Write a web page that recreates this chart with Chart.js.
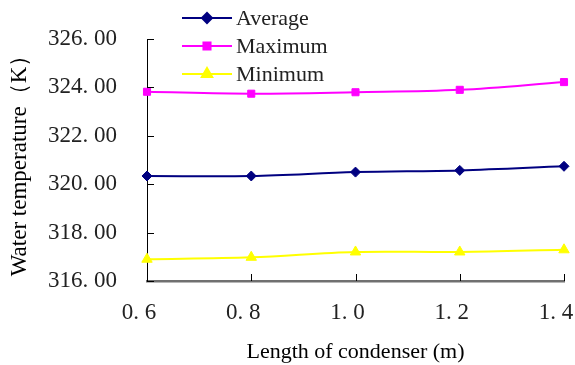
<!DOCTYPE html>
<html>
<head>
<meta charset="utf-8">
<script src="https://cdn.jsdelivr.net/npm/chart.js@4/dist/chart.umd.min.js"></script>
<style>
  html, body { margin: 0; padding: 0; background: #fff; }
  #wrap { width: 575px; height: 365px; }
</style>
</head>
<body>
<div id="wrap"><canvas id="chart"></canvas></div>
<script>
// condenser lengths (m)
const lengths = [0.6, 0.8, 1.0, 1.2, 1.4];
// water temperatures (K)
const average = [320.34, 320.34, 320.50, 320.57, 320.74];
const maximum = [323.82, 323.74, 323.80, 323.90, 324.22];
const minimum = [316.90, 316.98, 317.20, 317.20, 317.29];

const seriesNames = ['Average', 'Maximum', 'Minimum'];
const yTicks = [316, 318, 320, 322, 324, 326];
const xTicks = [0.6, 0.8, 1.0, 1.2, 1.4];

const tickFont = { family: '"Liberation Serif", serif', size: 23 };
const titleFont = { family: '"Liberation Serif", serif', size: 22 };

function toPoints(values) {
    return lengths.map((x, i) => ({ x: x, y: values[i] }));
}

// "326.00" -> "326. 00", like the wide period of the original
function spaced(str) {
    return str.replace('.', '. ');
}

function series(name, values, color, style) {
    return {
        label: name,
        data: toPoints(values),
        borderColor: color,
        backgroundColor: color,
        borderWidth: 2,
        pointStyle: style,
        pointRadius: style === 'triangle' ? 6 : 5,
        pointBorderWidth: 1,
        tension: 0.35,
        clip: false
    };
}

// inward tick marks, Excel style
const tickMarks = {
    id: 'tickMarks',
    afterDatasetsDraw(chart) {
        const ctx = chart.ctx;
        const x = chart.scales.x, y = chart.scales.y;
        ctx.save();
        ctx.strokeStyle = '#000';
        ctx.lineWidth = 1;
        yTicks.forEach(v => {
            const py = Math.round(y.getPixelForValue(v)) + 0.5;
            ctx.beginPath();
            ctx.moveTo(x.left, py);
            ctx.lineTo(x.left + 7, py);
            ctx.stroke();
        });
        xTicks.slice(1).forEach(v => {
            const px = Math.round(x.getPixelForValue(v)) + 0.5;
            ctx.beginPath();
            ctx.moveTo(px, y.bottom);
            ctx.lineTo(px, y.bottom - 7);
            ctx.stroke();
        });
        ctx.restore();
    }
};

// legend drawn over the top-left of the plot
const overlayLegend = {
    id: 'overlayLegend',
    afterDraw(chart) {
        const ctx = chart.ctx;
        ctx.save();
        chart.data.datasets.forEach((ds, i) => {
            const cy = 18 + i * 28;
            ctx.strokeStyle = ds.borderColor;
            ctx.lineWidth = 2;
            ctx.beginPath();
            ctx.moveTo(182, cy);
            ctx.lineTo(232, cy);
            ctx.stroke();
            ctx.fillStyle = ds.backgroundColor;
            Chart.helpers.drawPoint(ctx, {
                pointStyle: ds.pointStyle,
                radius: ds.pointRadius,
                borderWidth: 1
            }, 207, cy);
            ctx.fillStyle = '#222';
            ctx.font = '22px ' + tickFont.family;
            ctx.textBaseline = 'middle';
            ctx.fillText(ds.label, 236, cy + 1);
        });
        ctx.restore();
    }
};

new Chart(document.getElementById('chart'), {
    type: 'line',
    data: {
        datasets: [
            series(seriesNames[0], average, '#000080', 'rectRot'),
            series(seriesNames[1], maximum, '#FF00FF', 'rect'),
            series(seriesNames[2], minimum, '#FFFF00', 'triangle')
        ]
    },
    options: {
        responsive: true,
        maintainAspectRatio: false,
        animation: false,
        layout: { padding: { top: 39, right: 11, left: 0, bottom: 0 } },
        plugins: {
            legend: { display: false },
            tooltip: { enabled: false }
        },
        scales: {
            x: {
                type: 'linear',
                min: 0.6,
                max: 1.4,
                afterBuildTicks: s => { s.ticks = xTicks.map(v => ({ value: v })); },
                afterFit: s => {
                    s.height = 84;
                    s.paddingLeft = 0;
                    s.paddingRight = 0;
                },
                grid: { display: false },
                border: { display: true, color: '#707070', width: 2.5 },
                ticks: {
                    font: tickFont,
                    color: '#222',
                    padding: 10,
                    labelOffset: -8,
                    maxRotation: 0,
                    callback: v => spaced(v.toFixed(1))
                },
                title: {
                    display: true,
                    text: 'Length of condenser (m)',
                    font: titleFont,
                    color: '#000',
                    padding: { top: 9, bottom: 0 }
                }
            },
            y: {
                min: 316,
                max: 326,
                afterBuildTicks: s => { s.ticks = yTicks.map(v => ({ value: v })); },
                afterFit: s => { s.width = 147; },
                grid: { display: false },
                border: { display: true, color: '#000', width: 1 },
                ticks: {
                    font: tickFont,
                    color: '#222',
                    padding: 22,
                    callback: v => spaced(v.toFixed(2))
                },
                title: {
                    display: true,
                    text: 'Water temperature（K）',
                    font: { family: titleFont.family, size: 23 },
                    color: '#000',
                    padding: { top: 6, bottom: 0 }
                }
            }
        }
    },
    plugins: [tickMarks, overlayLegend]
});
</script>
</body>
</html>
